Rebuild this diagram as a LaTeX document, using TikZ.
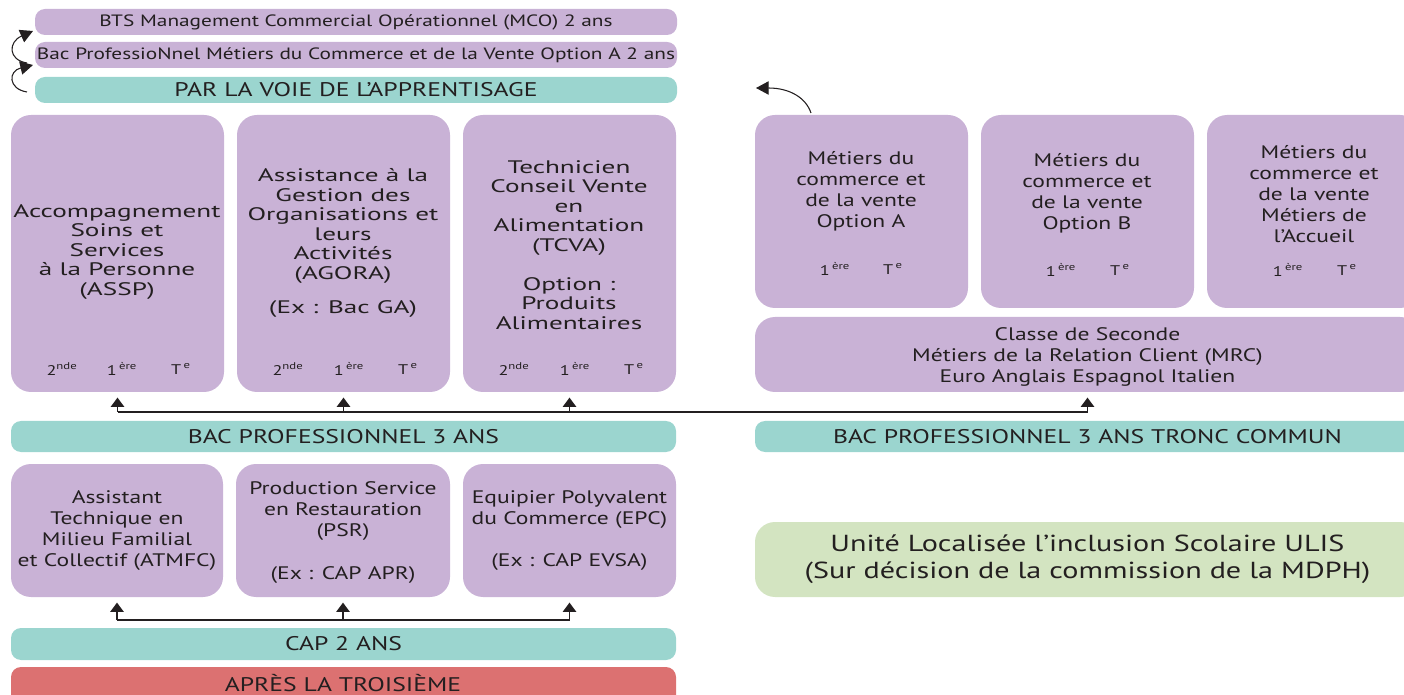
\documentclass[tikz,border=0pt]{standalone}
\usepackage{fontspec}
\setmainfont{PT Sans}
\newfontfamily\wideA{PT Sans}[FakeStretch=1.5]
\newfontfamily\wideB{PT Sans}[FakeStretch=1.3]
\usetikzlibrary{fit,arrows.meta}

\definecolor{mauve}{HTML}{C9B2D6}
\definecolor{turquoise}{HTML}{9BD5CF}
\definecolor{rouge}{HTML}{DC7171}
\definecolor{vert}{HTML}{D3E4C1}
\definecolor{encre}{HTML}{231F20}

\tikzset{
  box/.style={fill=mauve, draw=none, rounded corners=15pt, inner sep=0pt},
  bar/.style={draw=none, rounded corners=7.5pt, inner sep=0pt},
  txt/.style={align=center, text=encre, inner sep=0pt},
  bigtxt/.style={txt, font=\wideA\fontsize{13.6}{14.6}\selectfont},
  midtxt/.style={txt, font=\wideB\fontsize{13.6}{15.8}\selectfont},
  bartxt/.style={txt, font=\wideB\fontsize{14.8}{16}\selectfont},
  smalltxt/.style={txt, font=\wideB\fontsize{12.3}{13}\selectfont},
  grade/.style={text=encre, inner sep=0pt, font=\wideB\fontsize{10.5}{11}\selectfont},
  bus/.style={draw=encre, line width=1.3pt},
  up/.style={bus, -{Triangle[width=10pt,length=7pt]}, shorten >=4pt},
  curl/.style={draw=encre, line width=0.8pt, -{Triangle[width=10pt,length=9.5pt]}},
}

\begin{document}
\begin{tikzpicture}[x=0.75pt, y=-0.75pt]
  \useasboundingbox (0,0) rectangle (1404,695);

  % filiere par apprentissage
  \node[bar, fill=mauve, fit={(35,9) (677,35)}] (mco) {};
  \node[smalltxt] (mcoT) at (mco) {BTS Management Commercial Opérationnel (MCO) 2 ans};
  \node[bar, fill=mauve, fit={(35,42) (677,68)}] (mcv) {};
  \node[smalltxt] (mcvT) at (mcv) {Bac ProfessioNnel Métiers du Commerce et de la Vente Option A 2 ans};
  \node[bar, fill=turquoise, fit={(35,77) (677,103)}] (appr) {};
  \node[bartxt] (apprT) at (appr) {PAR LA VOIE DE L’APPRENTISAGE};

  \coordinate (curlAs) at (27,92);
  \coordinate (curlAe) at (33,65);
  \coordinate (curlBs) at (27,63);
  \coordinate (curlBe) at (33,31);
  \draw[curl] (curlAs) .. controls (8,89) and (8,71) .. (curlAe);
  \draw[curl] (curlBs) .. controls (8,60) and (8,42) .. (curlBe);

  % bac pro 3 ans
  \node[box, fit={(11,115) (224,392)}] (assp) {};
  \node[box, fit={(237,115) (450,392)}] (agora) {};
  \node[box, fit={(463,115) (676,392)}] (tcva) {};

  \node[bigtxt] (asspT) at (117,252) {Accompagnement\\Soins et\\Services\\à la Personne\\(ASSP)};
  \node[bigtxt] (agoraT) at (343,243) {Assistance à la\\Gestion des\\Organisations et\\leurs\\Activités\\(AGORA)\\[11pt](Ex : Bac GA)};
  \node[bigtxt] (tcvaT) at (569,245) {Technicien\\Conseil Vente\\en\\Alimentation\\(TCVA)\\[14.6pt]Option :\\Produits\\Alimentaires};

  \node[grade] (asspA) at (62,369) {2\textsuperscript{nde}};
  \node[grade] (asspB) at (122,369) {1\,\textsuperscript{ère}};
  \node[grade] (asspC) at (181,369) {T\,\textsuperscript{e}};
  \node[grade] (agoraA) at (288,369) {2\textsuperscript{nde}};
  \node[grade] (agoraB) at (349,369) {1\,\textsuperscript{ère}};
  \node[grade] (agoraC) at (408,369) {T\,\textsuperscript{e}};
  \node[grade] (tcvaA) at (514,369) {2\textsuperscript{nde}};
  \node[grade] (tcvaB) at (575,369) {1\,\textsuperscript{ère}};
  \node[grade] (tcvaC) at (634,369) {T\,\textsuperscript{e}};

  % tronc commun
  \node[box, fit={(755,115) (968,308)}] (opta) {};
  \node[box, fit={(981,115) (1194,308)}] (optb) {};
  \node[box, fit={(1207,115) (1420,308)}] (accueil) {};
  \node[box, fit={(755,317) (1420,392)}] (seconde) {};
  \node[midtxt] (secondeT) at ([yshift=-2pt]seconde.center) {Classe de Seconde\\Métiers de la Relation Client (MRC)\\Euro Anglais Espagnol Italien};

  \node[midtxt] (optaT) at (861,191) {Métiers du\\commerce et\\de la vente\\Option A};
  \node[midtxt] (optbT) at (1087,193) {Métiers du\\commerce et\\de la vente\\Option B};
  \node[midtxt] (accueilT) at (1314,194) {Métiers du\\commerce et\\de la vente\\Métiers de\\l’Accueil};

  \node[grade] (optaB) at (835,269) {1\,\textsuperscript{ère}};
  \node[grade] (optaC) at (893,269) {T\,\textsuperscript{e}};
  \node[grade] (optbB) at (1061,270) {1\,\textsuperscript{ère}};
  \node[grade] (optbC) at (1120,270) {T\,\textsuperscript{e}};
  \node[grade] (accueilB) at (1288,270) {1\,\textsuperscript{ère}};
  \node[grade] (accueilC) at (1347,270) {T\,\textsuperscript{e}};

  \coordinate (curlCs) at (811,113);
  \coordinate (curlCe) at (756,88);
  \draw[curl] (curlCs) .. controls (806,98) and (790,88) .. (curlCe);

  % bandeaux
  \node[bar, fill=turquoise, fit={(11,421) (676,452)}] (bacpro) {};
  \node[bartxt] (bacproT) at (bacpro) {BAC PROFESSIONNEL 3 ANS};
  \node[bar, fill=turquoise, fit={(755,421) (1420,452)}] (tronc) {};
  \node[bartxt] (troncT) at (tronc) {BAC PROFESSIONNEL 3 ANS TRONC COMMUN};

  \coordinate (busTop) at (0,412);
  \draw[bus] (assp.south |- busTop) -- (seconde.south |- busTop);
  \foreach \n in {assp,agora,tcva,seconde}
    \draw[up] (\n.south |- busTop) -- (\n.south);

  % cap 2 ans
  \node[box, fit={(11,464) (223,597)}] (atmfc) {};
  \node[midtxt] (atmfcT) at (atmfc) {Assistant\\Technique en\\Milieu Familial\\et Collectif (ATMFC)};
  \node[box, fit={(236,464) (450,597)}] (psr) {};
  \node[midtxt] (psrT) at ([yshift=-1.5pt]psr.center) {Production Service\\en Restauration\\(PSR)\\[15.8pt](Ex : CAP APR)};
  \node[box, fit={(463,464) (676,597)}] (epc) {};
  \node[midtxt] (epcT) at (epc) {Equipier Polyvalent\\du Commerce (EPC)\\[15.8pt](Ex : CAP EVSA)};

  \node[bar, fill=vert, rounded corners=15pt, fit={(755,522) (1420,597)}] (ulis) {};
  \node[txt, font=\wideB\fontsize{17.4}{20.3}\selectfont] (ulisT) at (ulis)
    {Unité Localisée l’inclusion Scolaire ULIS\\(Sur décision de la commission de la MDPH)};

  \coordinate (busLow) at (0,620);
  \draw[bus] (atmfc.south |- busLow) -- (epc.south |- busLow);
  \foreach \n in {atmfc,psr,epc}
    \draw[up] (\n.south |- busLow) -- (\n.south);

  \node[bar, fill=turquoise, fit={(11,628) (676,660)}] (cap) {};
  \node[bartxt] (capT) at (cap) {CAP 2 ANS};
  \node[bar, fill=rouge, fit={(11,667) (676,705)}] (apres) {};
  \node[bartxt] (apresT) at (343,683) {APRÈS LA TROISIÈME};
\end{tikzpicture}
\end{document}
